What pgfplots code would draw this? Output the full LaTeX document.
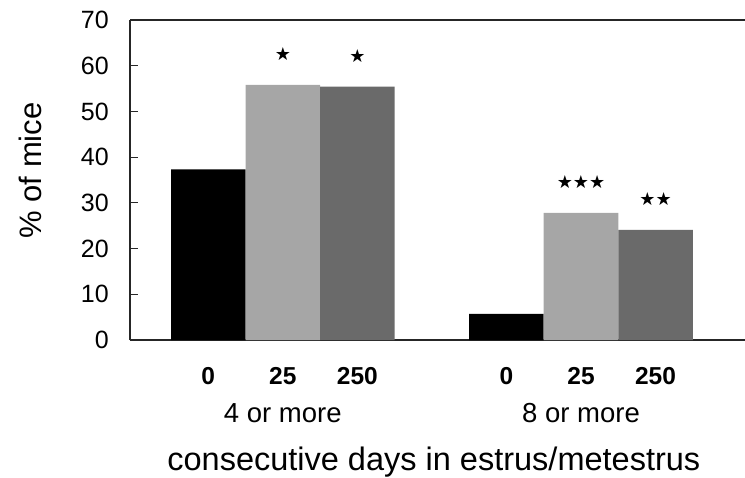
\documentclass[border=0pt]{standalone}
\usepackage{pgfplots}
\pgfplotsset{compat=1.18}
\usepackage{fontspec}
\setmainfont{Liberation Sans}
\newfontfamily\symfont{DejaVu Sans}
\definecolor{lightbar}{RGB}{166,166,166}
\definecolor{darkbar}{RGB}{106,106,106}
\begin{document}
\begin{tikzpicture}
\useasboundingbox (0,0) rectangle (745bp,478bp);
\begin{axis}[
  at={(130bp,138bp)}, anchor=south west,
  width=615bp, height=320bp, scale only axis,
  xmin=-0.05, xmax=8.2, ymin=0, ymax=70,
  axis x line=box, axis y line=left,
  axis line style={black!85, line width=1.2bp, -},
  ytick={0,10,...,70},
  tick align=inside, major tick length=8bp,
  ytick style={black!85, line width=1bp},
  xtick={1,2,3,5,6,7},
  xticklabels={0,25,250,0,25,250},
  xtick style={draw=none},
  /pgf/number format/assume math mode=true,
  yticklabel style={anchor=east, inner sep=0pt, xshift=-21bp, font=\fontsize{25bp}{29bp}\selectfont},
  xticklabel style={anchor=center, inner sep=0pt, yshift=-28bp, font=\bfseries\fontsize{24.5bp}{28bp}\selectfont},
  xlabel={consecutive days in estrus/metestrus},
  xlabel style={at={(axis description cs:0.494,0)}, anchor=center, yshift=-122bp, font=\fontsize{32.5bp}{36bp}\selectfont},
  ylabel={\% of mice},
  ylabel style={at={(axis description cs:-0.1626,0.53)}, anchor=center, font=\fontsize{31bp}{36bp}\selectfont},
  ybar, bar width=1, bar shift=0pt,
  clip=false,
  nodes near coords style={anchor=center, yshift=31bp, font=\symfont\fontsize{18bp}{20bp}\selectfont, inner sep=0pt},
]
\addplot[fill=black, draw=none] coordinates {(1,37.3) (5,5.7)};
\addplot[fill=lightbar, draw=none, nodes near coords, point meta=explicit symbolic]
  coordinates {(2,55.8) [★] (6,27.8) [★★★]};
\addplot[fill=darkbar, draw=none, nodes near coords, point meta=explicit symbolic]
  coordinates {(3,55.4) [★] (7,24.1) [★★]};
\node[font=\fontsize{27.5bp}{32bp}\selectfont] at (axis cs:2,-16) {4 or more};
\node[font=\fontsize{27.5bp}{32bp}\selectfont] at (axis cs:6,-16) {8 or more};
\end{axis}
\end{tikzpicture}
\end{document}
